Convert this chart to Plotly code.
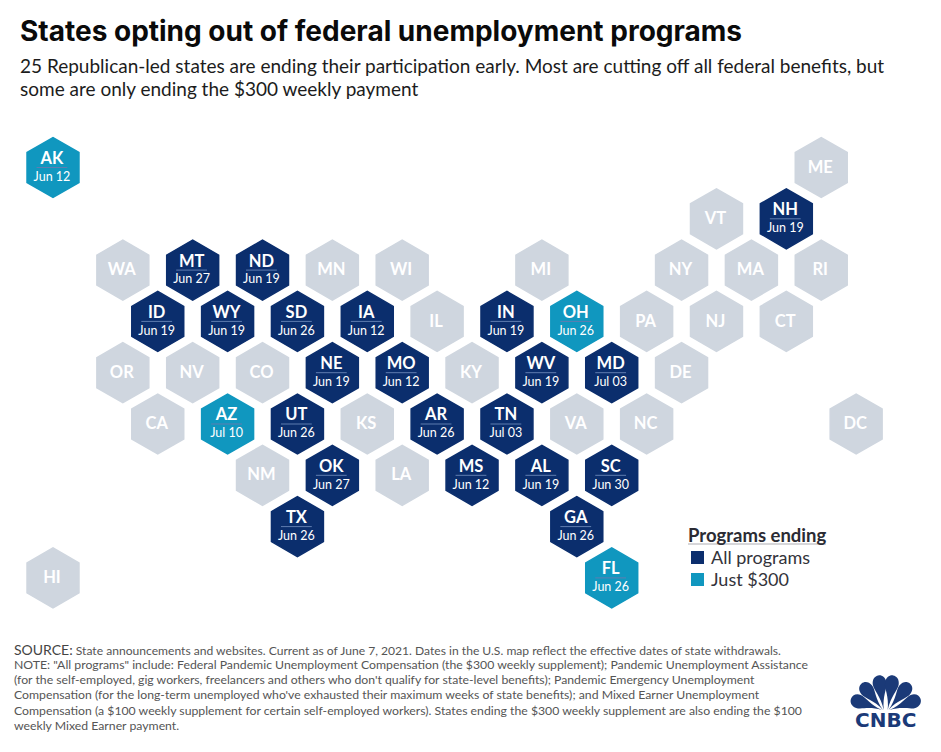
import math
import plotly.graph_objects as go

W, H = 941, 752
FONT = "Lato"
NAVY, TEAL, GREY = "#0b2e6d", "#1097bf", "#cfd6df"

all_states = ["MT","ND","ID","WY","SD","IA","IN","NE","MO","WV","MD","UT","AR","TN","OK","MS","AL","SC","TX","GA","NH"]
all_cols   = [4,6,3,5,7,9,13,8,10,14,16,7,11,13,8,12,14,16,7,15,21]
all_rows   = [2,2,3,3,3,3,3,4,4,4,4,5,5,5,6,6,6,6,7,7,1]
all_dates  = ["Jun 27","Jun 19","Jun 19","Jun 19","Jun 26","Jun 12","Jun 19","Jun 19","Jun 12","Jun 19","Jul 03","Jun 26","Jun 26","Jul 03","Jun 27","Jun 12","Jun 19","Jun 30","Jun 26","Jun 26","Jun 19"]

just_states = ["AK","OH","AZ","FL"]
just_cols   = [0,15,5,16]
just_rows   = [0,3,5,8]
just_dates  = ["Jun 12","Jun 26","Jul 10","Jun 26"]

other_states = ["ME","VT","WA","MN","WI","MI","NY","MA","RI","IL","PA","NJ","CT","OR","NV","CO","KY","DE","CA","KS","VA","NC","DC","NM","LA","HI"]
other_cols   = [22,19,2,8,10,14,18,20,22,11,17,19,21,2,4,6,12,18,3,9,15,17,23,6,10,0]
other_rows   = [0,1,2,2,2,2,2,2,2,3,3,3,3,4,4,4,4,4,5,5,5,5,5,6,6,8]

title = "States opting out of federal unemployment programs"
subtitle = ["25 Republican-led states are ending their participation early. Most are cutting off all federal benefits, but",
            "some are only ending the $300 weekly payment"]
legend_title = "Programs ending"
legend_labels = ["All programs", "Just $300"]
notes = ["State announcements and websites. Current as of June 7, 2021. Dates in the U.S. map reflect the effective dates of state withdrawals.",
         "NOTE: \"All programs\" include: Federal Pandemic Unemployment Compensation (the $300 weekly supplement); Pandemic Unemployment Assistance",
         "(for the self-employed, gig workers, freelancers and others who don't qualify for state-level benefits); Pandemic Emergency Unemployment",
         "Compensation (for the long-term unemployed who've exhausted their maximum weeks of state benefits); and Mixed Earner Unemployment",
         "Compensation (a $100 weekly supplement for certain self-employed workers). States ending the $300 weekly supplement are also ending the $100",
         "weekly Mixed Earner payment."]

fig = go.Figure()

def hexes(name, cols, rows, color):
    fig.add_trace(go.Scatter(x=cols, y=rows, mode="markers", name=name, showlegend=False, hoverinfo="skip",
        marker=dict(symbol="hexagon", size=60, color=color, line=dict(color=color, width=1.5))))

hexes("All programs", all_cols, all_rows, NAVY)
hexes("Just $300", just_cols, just_rows, TEAL)
hexes("Not ending", other_cols, other_rows, GREY)

TX = -0.03

def shift(cols):
    return [c + TX for c in cols]

def labels(states, cols, rows, dates):
    fig.add_trace(go.Scatter(x=shift(cols), y=rows, mode="markers", showlegend=False, hoverinfo="skip",
        marker=dict(symbol="line-ew", size=22, line=dict(color="#5f7db0", width=1))))
    fig.add_trace(go.Scatter(x=shift(cols), y=[r - 0.15 for r in rows], mode="text", text=states, showlegend=False,
        hoverinfo="skip", textfont=dict(family=FONT, size=16.5, color="white", weight="bold")))
    fig.add_trace(go.Scatter(x=shift(cols), y=[r + 0.2 for r in rows], mode="text", text=dates, showlegend=False,
        hoverinfo="skip", textfont=dict(family=FONT, size=12.5, color="white")))

labels(all_states, all_cols, all_rows, all_dates)
labels(just_states, just_cols, just_rows, just_dates)
fig.add_trace(go.Scatter(x=shift(other_cols), y=[r + 0.02 for r in other_rows], mode="text", text=other_states, showlegend=False,
    hoverinfo="skip", textfont=dict(family=FONT, size=16.5, color="white", weight="bold")))

def px(x): return x / W
def py(y): return 1 - y / H

ann = []
def txt(x, y, s, size, color="#111", anchor="left", family=FONT, **kw):
    ann.append(dict(x=px(x), y=py(y), xref="paper", yref="paper", text=s, showarrow=False, xanchor=anchor,
                    yanchor="middle", align="left", borderpad=0, borderwidth=0,
                    font=dict(family=family, size=size, color=color, **kw)))

txt(20, 31, title, 28, "#0a0a0a", family="Inter", weight="bold")
txt(20, 65, subtitle[0], 19, "#1c1c1c")
txt(20, 88, subtitle[1], 19, "#1c1c1c")

txt(688, 535, legend_title, 18.5, "#2b2b33", weight="bold")
txt(711, 557, legend_labels[0], 18, "#33333a")
txt(711, 579, legend_labels[1], 18, "#33333a")

FOOT = "#555"
txt(14, 649, "<span style='font-size:14px;color:#444'>SOURCE:</span> " + notes[0], 12.1, FOOT)
for yy, line in zip([664, 679, 694, 710, 725], notes[1:]):
    txt(14, yy, line, 12.25, FOOT)

shapes = [
    dict(type="line", xref="paper", yref="paper", x0=px(688), x1=px(826), y0=py(544), y1=py(544),
         line=dict(color="#c9c9cc", width=1.5)),
    dict(type="rect", xref="paper", yref="paper", x0=px(691), x1=px(704), y0=py(551), y1=py(564),
         fillcolor=NAVY, line=dict(width=0)),
    dict(type="rect", xref="paper", yref="paper", x0=px(691), x1=px(704), y0=py(573), y1=py(586),
         fillcolor=TEAL, line=dict(width=0)),
]

# CNBC peacock mark
LOGO = "#1b3a78"
def feather(cx, cy, angle, L, w):
    a = math.radians(angle)
    def T(u, v):
        return f"{px(cx + u * math.cos(a) + v * math.sin(a)):.5f},{py(cy + u * math.sin(a) - v * math.cos(a)):.5f}"
    return ("M" + T(0, 0) + " C" + T(-w * .1, L * .4) + " " + T(-w, L * .6) + " " + T(-w, L * .76)
            + " C" + T(-w, L * .92) + " " + T(-w * .5, L) + " " + T(0, L)
            + " C" + T(w * .5, L) + " " + T(w, L * .92) + " " + T(w, L * .76)
            + " C" + T(w, L * .6) + " " + T(w * .1, L * .4) + " " + T(0, 0) + " Z")

for cx, ang, L in [(883.8, -9, 35), (887.7, 9, 35), (883, -39, 34), (888.5, 39, 34), (882, -70, 33), (889.5, 70, 33)]:
    shapes.append(dict(type="path", xref="paper", yref="paper", path=feather(cx, 710, ang, L, 6.9),
                       fillcolor=LOGO, line=dict(width=0)))
ann.append(dict(x=px(885), y=py(720), xref="paper", yref="paper", text="CNBC", showarrow=False, xanchor="center",
                yanchor="middle", font=dict(family="DejaVu Sans", size=20, color=LOGO, weight="bold")))

fig.update_layout(
    width=W, height=H, margin=dict(l=0, r=0, t=0, b=0), paper_bgcolor="white", plot_bgcolor="white",
    showlegend=False, annotations=ann, shapes=shapes,
    xaxis=dict(range=[-53 / 34.92, (W - 53) / 34.92], visible=False, fixedrange=True),
    yaxis=dict(range=[(H - 167.5) / 51.3, -167.5 / 51.3], visible=False, fixedrange=True),
)
fig.write_html("out.html", config=dict(displayModeBar=False),
               post_script="document.body.style.margin='0';")
